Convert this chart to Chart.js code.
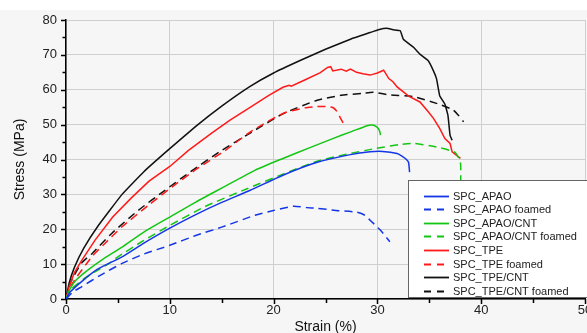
<!DOCTYPE html>
<html>
<head>
<meta charset="utf-8">
<script src="https://cdn.jsdelivr.net/npm/chart.js@4.4.1/dist/chart.umd.min.js"></script>
<style>
  html, body { margin: 0; padding: 0; background: #fff; overflow: hidden; }
  #wrap { position: absolute; left: 0; top: 0; width: 600px; height: 345px; }
</style>
</head>
<body>
<div id="wrap"><canvas id="stressChart" width="600" height="345"></canvas></div>
<script>
// values (strain in %, stress in MPa)
const apaoStrain = [0, 0.4, 1.5, 3, 5.4, 7.5, 10, 12.5, 15, 17.7, 20.9, 24.2, 27.4, 29.3, 30.5, 31.9, 32.4, 32.8, 33.0, 33.1];
const apaoStress = [0, 2, 5, 8.5, 12.1, 16, 20.3, 24.2, 27.7, 31.1, 35.5, 39.2, 41.4, 42.2, 42.3, 41.7, 40.9, 40.0, 39.2, 36.4];

const apaoFoamStrain = [0, 0.7, 1.5, 3.3, 5.4, 7.5, 10, 12.5, 15, 18.2, 20, 21.9, 23.2, 24.2, 26, 28.0, 28.8, 29.3, 30.3, 31.2];
const apaoFoamStress = [0, 2.1, 3.5, 6.8, 10.2, 12.9, 15.4, 18.2, 20.6, 24, 25.4, 26.6, 26.2, 26, 25.4, 24.9, 24.0, 22.6, 19.7, 16.4];

const apaoCntStrain = [0, 0.4, 1, 2.1, 3.5, 5.4, 7.5, 10, 12.5, 15, 18.2, 20.9, 23.5, 25.7, 27.5, 29.0, 29.5, 29.9, 30.2, 30.3];
const apaoCntStress = [0, 3, 5.5, 8.3, 11.3, 14.9, 19.2, 23.5, 27.8, 31.8, 36.9, 40.3, 43.4, 46, 48, 49.7, 49.9, 49.4, 48.3, 47];

const apaoCntFoamStrain = [0, 0.4, 1.8, 4.2, 5.0, 7.5, 10, 13.4, 17.5, 20.9, 24.2, 27, 29.9, 32.2, 33.5, 35.7, 37.0, 37.5, 38.0, 38.0];
const apaoCntFoamStress = [0, 2.5, 6, 10.3, 12.1, 16.8, 21.1, 26.5, 31.7, 35.8, 39.5, 41.5, 43.2, 44.3, 44.6, 43.6, 42.6, 42.0, 39.3, 30];

const tpeStrain = [0, 0.3, 0.8, 1.5, 2.8, 4.5, 6.3, 8, 10, 11.8, 14, 15.8, 17.7, 19.5, 20.9, 21.5, 21.7, 23, 24.5, 25.2, 25.5, 25.7, 26.5, 27.0, 27.4, 28.0, 28.6, 29.3, 30.0, 30.6, 31.1, 31.5, 31.9, 32.5, 33.1, 34.1, 34.9, 35.4, 36.0, 36.5, 37.0, 37.2, 38.0];
const tpeStress = [0, 3.5, 7.5, 11, 16.9, 23.5, 29, 33.8, 38, 42.6, 47.5, 51.3, 54.9, 58.3, 60.7, 61.3, 61.0, 62.8, 64.9, 66.4, 66.6, 65.4, 65.9, 65.3, 65.9, 65.0, 64.6, 64.2, 64.8, 65.6, 63.2, 62.3, 60.8, 59.4, 58.0, 56.5, 53.7, 51.8, 48.9, 46.0, 44.6, 42.2, 40.3];

const tpeFoamStrain = [0, 0.5, 2.6, 3.6, 5.4, 8, 10.2, 12.7, 15.3, 17.7, 20.9, 23, 24.2, 25.2, 25.7, 26.1, 26.4, 26.7];
const tpeFoamStress = [0, 4, 12.5, 15.5, 20.7, 27, 32.1, 37.5, 42.5, 47.8, 53.2, 54.8, 55.2, 55.2, 54.9, 53.8, 52.1, 50.5];

const tpeCntStrain = [0, 0.3, 0.8, 1.7, 3.1, 5.4, 7.5, 9.8, 12.5, 15, 17.7, 20, 22.5, 25, 27.4, 29.3, 30.1, 30.9, 31.5, 32.2, 32.5, 33.5, 34.1, 34.9, 35.4, 35.7, 36.0, 36.5, 36.8, 37.0, 37.2];
const tpeCntStress = [0, 4.5, 9, 14.5, 21, 30, 36.5, 42.6, 49.5, 55.3, 60.9, 64.8, 68.3, 71.6, 74.5, 76.4, 77.2, 77.6, 77.2, 76.9, 74.5, 72.1, 70.2, 68.3, 65.4, 63.1, 58.3, 55.9, 52.6, 46.9, 45.5];

const tpeCntFoamStrain = [0, 0.4, 1.5, 2.5, 4.4, 7, 9.5, 12, 15, 17.7, 20.9, 24.2, 26.5, 28.6, 29.6, 31.2, 33.5, 36.0, 37.3, 37.8, 38.3];
const tpeCntFoamStress = [0, 4.5, 10.3, 13, 18.8, 25.5, 31.1, 36.5, 42.6, 47.5, 53.1, 57.0, 58.4, 59.0, 59.3, 58.5, 58.0, 55.8, 54.2, 52.7, 50.8];

const seriesLabels = ["SPC_APAO", "SPC_APAO foamed", "SPC_APAO/CNT", "SPC_APAO/CNT foamed",
                      "SPC_TPE", "SPC_TPE foamed", "SPC_TPE/CNT", "SPC_TPE/CNT foamed"];
const strainTicks = [0, 10, 20, 30, 40, 50];
const stressTicks = [0, 10, 20, 30, 40, 50, 60, 70, 80];

const FONT = "'Liberation Sans', Arial, sans-serif";
const BLUE = "#1436e6", GREEN = "#13c613", RED = "#ff1a1a", BLACK = "#111";

function pts(xs, ys) {
  return xs.map((x, i) => ({ x, y: ys[i] }));
}

function series(label, xs, ys, color, dashed) {
  return {
    label,
    data: pts(xs, ys),
    borderColor: color,
    backgroundColor: color,
    borderWidth: 1.5,
    borderDash: dashed ? [8, 5] : [],
    pointRadius: 0,
    showLine: true,
    tension: 0.2,
    fill: false,
  };
}

const datasets = [
  series(seriesLabels[0], apaoStrain, apaoStress, BLUE, false),
  series(seriesLabels[1], apaoFoamStrain, apaoFoamStress, BLUE, true),
  series(seriesLabels[2], apaoCntStrain, apaoCntStress, GREEN, false),
  series(seriesLabels[3], apaoCntFoamStrain, apaoCntFoamStress, GREEN, true),
  series(seriesLabels[4], tpeStrain, tpeStress, RED, false),
  series(seriesLabels[5], tpeFoamStrain, tpeFoamStress, RED, true),
  series(seriesLabels[6], tpeCntStrain, tpeCntStress, BLACK, false),
  series(seriesLabels[7], tpeCntFoamStrain, tpeCntFoamStress, BLACK, true),
];
// jagged curves look better without smoothing
datasets[4].tension = 0;
datasets[6].tension = 0.1;

// light grey paper behind the plot
const paper = {
  id: "paper",
  beforeDraw(chart) {
    const { ctx, width, height } = chart;
    ctx.save();
    ctx.fillStyle = "#f6f6f6";
    ctx.fillRect(0, 10, width, height - 10);
    ctx.restore();
  },
};

// outward major + minor tick marks every 5 units
const tickMarks = {
  id: "tickMarks",
  afterDraw(chart) {
    const { ctx, chartArea } = chart;
    const xs = chart.scales.x, ys = chart.scales.y;
    ctx.save();
    ctx.strokeStyle = "#000";
    ctx.lineWidth = 1.5;
    ctx.beginPath();
    for (let v = xs.min; v <= xs.max; v += 5) {
      const px = Math.round(xs.getPixelForValue(v)) + 0.5;
      const len = v % 10 === 0 ? 5 : 4;
      ctx.moveTo(px, chartArea.bottom);
      ctx.lineTo(px, chartArea.bottom + len);
    }
    for (let v = ys.min; v <= ys.max; v += 5) {
      const py = Math.round(ys.getPixelForValue(v)) + 0.5;
      const len = v % 10 === 0 ? 5 : 3.5;
      ctx.moveTo(chartArea.left, py);
      ctx.lineTo(chartArea.left - len, py);
    }
    ctx.stroke();
    ctx.restore();
  },
};

// boxed legend sitting in the lower right corner of the plot
const boxLegend = {
  id: "boxLegend",
  afterDraw(chart) {
    const { ctx, chartArea } = chart;
    const x0 = chartArea.right - 177;
    const y0 = chartArea.bottom - 119;
    ctx.save();
    ctx.fillStyle = "#fff";
    ctx.fillRect(x0, y0, 200, 117);
    ctx.strokeStyle = "#666";
    ctx.lineWidth = 1;
    ctx.strokeRect(x0 + 0.5, y0 + 0.5, 200, 117);
    ctx.font = "11px " + FONT;
    ctx.textBaseline = "middle";
    chart.data.datasets.forEach((ds, i) => {
      const y = Math.round(y0 + 15.5 + i * 13.65) + 0.5;
      ctx.strokeStyle = ds.borderColor;
      ctx.lineWidth = 1.8;
      ctx.setLineDash(ds.borderDash.length ? [7, 6] : []);
      ctx.beginPath();
      ctx.moveTo(x0 + 16, y);
      ctx.lineTo(x0 + 41, y);
      ctx.stroke();
      ctx.setLineDash([]);
      ctx.fillStyle = "#222";
      ctx.fillText(ds.label, x0 + 45, y);
    });
    ctx.restore();
  },
};

new Chart(document.getElementById("stressChart"), {
  type: "scatter",
  data: { datasets },
  plugins: [paper, tickMarks, boxLegend],
  options: {
    responsive: false,
    animation: false,
    devicePixelRatio: 1,
    layout: { padding: { left: 0, top: 20, right: 15, bottom: 0 } },
    plugins: { legend: { display: false }, tooltip: { enabled: false } },
    scales: {
      x: {
        type: "linear",
        min: 0,
        max: 50,
        afterBuildTicks: (s) => { s.ticks = strainTicks.map((v) => ({ value: v })); },
        afterFit: (s) => { s.height = 46; s.paddingLeft = 0; s.paddingRight = 0; },
        ticks: { color: "#222", font: { family: FONT, size: 13 }, padding: 4, maxRotation: 0 },
        grid: { color: "#cfcfcf", lineWidth: 1, drawTicks: false },
        border: { color: "#000", width: 1.5 },
        title: {
          display: true,
          text: "Strain (%)",
          color: "#111",
          font: { family: FONT, size: 14 },
          padding: { top: 0, bottom: 9.5 },
        },
      },
      y: {
        type: "linear",
        min: 0,
        max: 80,
        afterBuildTicks: (s) => { s.ticks = stressTicks.map((v) => ({ value: v })); },
        afterFit: (s) => { s.width = 66; s.paddingTop = 0; s.paddingBottom = 0; },
        ticks: { color: "#222", font: { family: FONT, size: 13 }, padding: 9 },
        grid: { color: "#cfcfcf", lineWidth: 1, drawTicks: false },
        border: { color: "#000", width: 1.5 },
        title: {
          display: true,
          text: "Stress (MPa)",
          color: "#111",
          font: { family: FONT, size: 14 },
          padding: { top: 12, bottom: 0 },
        },
      },
    },
  },
});
</script>
</body>
</html>
